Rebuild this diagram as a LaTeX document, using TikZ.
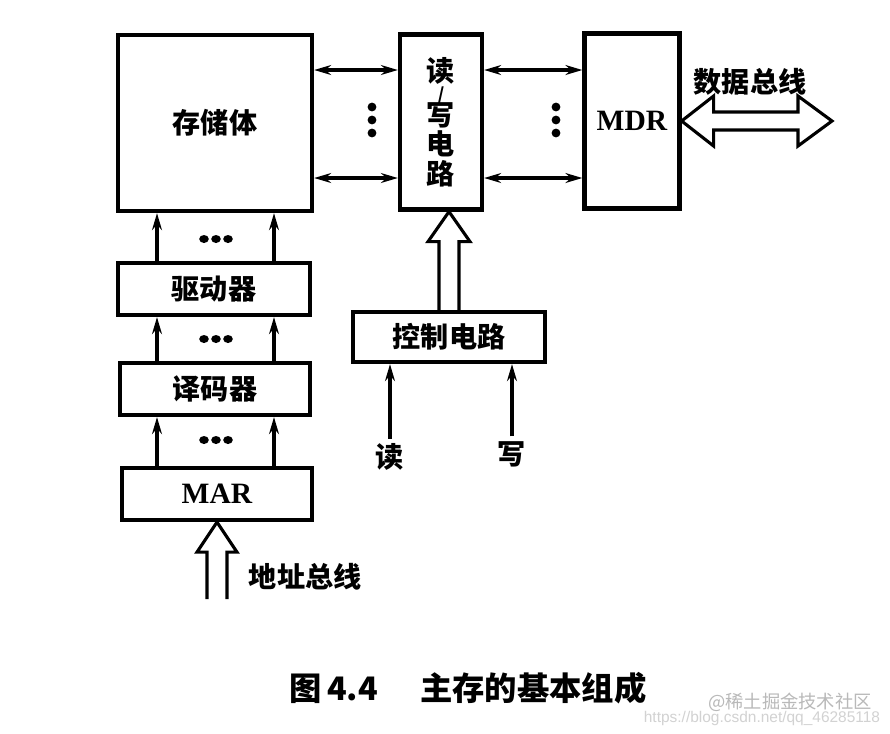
\documentclass[tikz,border=0pt]{standalone}
\usepackage{fontspec}
\newfontfamily\cjk{Noto Sans CJK SC}
\newfontfamily\serifbf{Liberation Serif}
\newfontfamily\wmsans{Liberation Sans}
\usetikzlibrary{arrows.meta, calc}

\begin{document}
\begin{tikzpicture}[x=0.025cm, y=-0.025cm,
        every node/.style={font=\cjk\bfseries\fontsize{20}{21}\selectfont},
        box/.style={draw, line width=3pt, inner sep=0pt, align=center},
        latin/.style={font=\serifbf\bfseries\fontsize{21}{24}\selectfont},
        arr/.style={-{Stealth[length=12pt, width=7pt]}, line width=2.2pt},
        darr/.style={{Stealth[length=12pt, width=7pt]}-{Stealth[length=12pt, width=7pt]}, line width=2.2pt},
        hollow/.style={line width=2.2pt, line join=miter}
    ]
    \fill[white] (0,0) rectangle (890,733);
    \useasboundingbox (0,0) rectangle (890,733);

    % storage, read/write circuit, MDR
    \node[box, minimum width=4.85cm, minimum height=4.4cm] (mem) at (215,123) {存储体};
    \node[box, minimum width=2.05cm, minimum height=4.375cm] (rw) at (441,122)
        {读\\[-7.5pt]{\fontsize{12}{12}\selectfont /}\\[-3pt]写\\电\\路};
    \node[box, latin, minimum width=2.375cm, minimum height=4.375cm] (mdr) at (632,121) {MDR};

    % address path
    \node[box, minimum width=4.8cm, minimum height=1.3cm] (drv) at (214,289) {驱动器};
    \node[box, minimum width=4.75cm, minimum height=1.3cm] (dec) at (215,389) {译码器};
    \node[box, latin, minimum width=4.75cm, minimum height=1.3cm] (mar) at (217,494) {MAR};

    % control
    \node[box, minimum width=4.8cm, minimum height=1.25cm] (ctl) at (449,337) {控制电路};
    \node (rd) at (390,457) {读};
    \node (wr) at (512,454) {写};

    % bus labels
    \node (dbus) at (750,82) {数据总线};
    \node[anchor=west] (abus) at (244,577) {地址总线};

    \foreach \yy in {70,178} {
        \draw[darr] (mem.east |- 0,\yy) -- (rw.west |- 0,\yy);
        \draw[darr] (rw.east |- 0,\yy) -- (mdr.west |- 0,\yy);
    }
    \foreach \yy in {107,120,133} {
        \fill (372,\yy) circle[radius=0.11cm];
        \fill (556,\yy) circle[radius=0.11cm];
    }

    \foreach \lo/\hi in {drv/mem, dec/drv, mar/dec} {
        \draw[arr] (\lo.north -| 157,0) -- (\hi.south -| 157,0);
        \draw[arr] (\lo.north -| 274,0) -- (\hi.south -| 274,0);
    }
    \foreach \yy in {239,339,440} {
        \foreach \xx in {204,216,228}
            \fill (\xx,\yy) ellipse[x radius=0.12cm, y radius=0.1cm];
    }

    \draw[arr] (rd.north) -- (rd.north |- ctl.south);
    \draw[arr] (wr.north) -- (wr.north |- ctl.south);

    % hollow bus arrows
    \coordinate (busend) at (832,121);
    \draw[hollow] (mdr.east) -- ++(32,-25) -- ++(0,16) -- ($(busend)+(-34,-9)$)
        -- ++(0,-16) -- (busend) -- ++(-34,25) -- ++(0,-16)
        -- ($(mdr.east)+(32,9)$) -- ++(0,16) -- cycle;

    \coordinate (ctltip) at (ctl.north |- rw.south);
    \draw[hollow] ($(ctl.north)+(-10,0)$) -- ($(ctltip)+(-10,30)$) -- ++(-11,0)
        -- (ctltip) -- ++(21,30) -- ++(-11,0) -- ($(ctl.north)+(10,0)$);

    \coordinate (addrend) at ($(mar.south)+(0,77)$);
    \draw[hollow] ($(addrend)+(-10,0)$) -- ($(mar.south)+(-10,30)$) -- ++(-10,0)
        -- (mar.south) -- ++(20,30) -- ++(-10,0) -- ($(addrend)+(10,0)$);

    % caption
    \node[font=\cjk\bfseries\fontsize{23}{26}\selectfont] (cap) at (468,688) {图\,4.4\hspace{1.3em}主存的基本组成};
    \node[font=\cjk\fontsize{13}{15}\selectfont, text=gray!55] (wm) at (790,702) {@稀土掘金技术社区};
    \node[font=\wmsans\fontsize{11}{13}\selectfont, text=gray!35] (url) at (762,718) {https://blog.csdn.net/qq\_46285118};
\end{tikzpicture}
\end{document}
